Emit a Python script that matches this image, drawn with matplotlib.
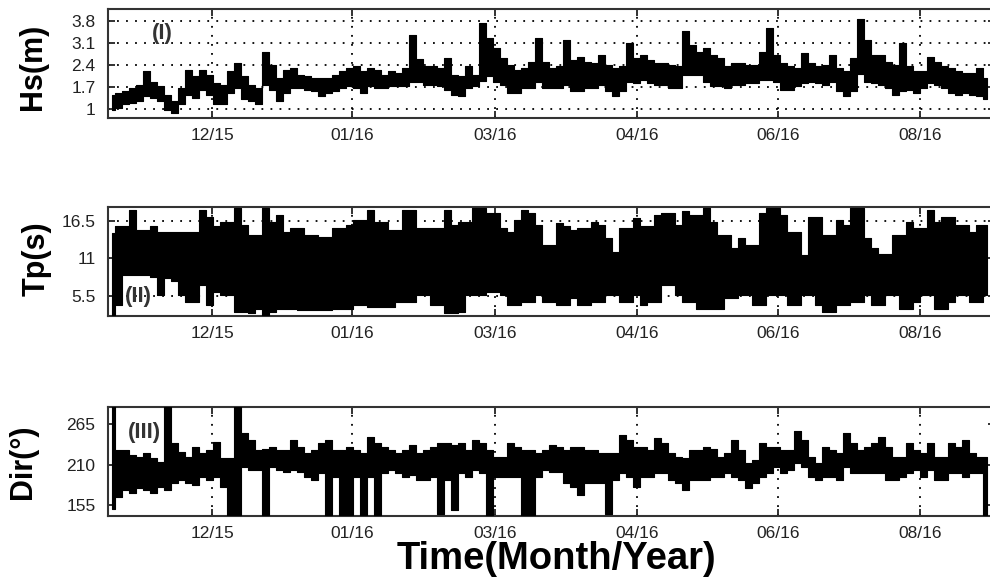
import numpy as np
import matplotlib
matplotlib.use("Agg")
import matplotlib.pyplot as plt

plt.rcParams['font.family'] = ['Liberation Sans', 'DejaVu Sans']

# x tick labels (evenly spaced in the original figure)
tick_labels = ['12/15', '01/16', '03/16', '04/16', '06/16', '08/16']
tick_pos = [14.4, 34.4, 54.8, 75.1, 95.2, 115.5]

# Hs (m): lower / upper envelope of the dense record
hs_lo = [0.95, 1.03, 1.14, 1.19, 1.24, 1.4, 1.35, 1.24, 0.98, 0.87,
         1.14, 1.45, 1.35, 1.61, 1.45, 1.14, 1.14, 1.5, 1.66, 1.3,
         1.24, 1.14, 1.77, 1.61, 1.24, 1.5, 1.66, 1.66, 1.61, 1.56,
         1.4, 1.5, 1.56, 1.66, 1.72, 1.66, 1.5, 1.72, 1.66, 1.66,
         1.72, 1.72, 1.72, 1.87, 1.87, 1.77, 1.77, 1.72, 1.61, 1.45,
         1.4, 1.66, 1.72, 1.9, 2.03, 1.87, 1.77, 1.5, 1.5, 1.66,
         1.66, 1.87, 1.66, 1.66, 1.66, 1.77, 1.56, 1.56, 1.66, 1.66,
         1.77, 1.56, 1.4, 1.56, 1.87, 1.82, 1.93, 1.82, 1.77, 1.77,
         1.66, 1.66, 2.08, 2.08, 2.08, 1.87, 1.72, 1.72, 1.66, 1.77,
         1.77, 1.82, 1.82, 1.93, 1.93, 1.87, 1.61, 1.61, 1.72, 1.82,
         1.87, 1.82, 1.77, 1.87, 1.56, 1.4, 1.56, 2.1, 1.87, 1.82,
         1.77, 1.66, 1.45, 1.56, 1.61, 1.5, 1.66, 1.82, 1.77, 1.66,
         1.5, 1.45, 1.5, 1.45, 1.4, 1.3]
hs_hi = [1.45, 1.5, 1.58, 1.66, 1.77, 2.2, 1.87, 1.72, 1.45, 1.24,
         1.66, 2.24, 2.03, 2.24, 2.08, 1.82, 1.77, 2.19, 2.45, 2.03,
         1.77, 1.66, 2.82, 2.4, 1.98, 2.24, 2.29, 2.08, 2.03, 1.98,
         1.98, 1.98, 2.08, 2.19, 2.29, 2.35, 2.19, 2.29, 2.24, 2.08,
         2.19, 2.13, 2.29, 3.35, 2.6, 2.35, 2.35, 2.29, 2.61, 2.08,
         2.03, 2.35, 2.08, 3.72, 3.24, 2.93, 2.61, 2.4, 2.24, 2.29,
         2.5, 3.26, 2.5, 2.29, 2.35, 3.18, 2.56, 2.66, 2.5, 2.45,
         2.72, 2.4, 2.29, 2.35, 3.1, 2.61, 2.72, 2.56, 2.45, 2.45,
         2.4, 2.35, 3.47, 3.03, 2.82, 2.93, 2.72, 2.61, 2.35, 2.45,
         2.45, 2.4, 2.4, 2.82, 3.56, 2.72, 2.45, 2.35, 2.29, 2.77,
         2.45, 2.35, 2.4, 2.72, 2.29, 2.19, 2.61, 3.85, 3.18, 2.72,
         2.72, 2.5, 2.4, 3.1, 2.35, 2.19, 2.19, 2.66, 2.5, 2.35,
         2.29, 2.19, 2.13, 2.13, 2.29, 1.98]

# Tp (s)
tp_lo = [2.65, 4.1, 8.5, 8.5, 8.5, 8.5, 8.3, 5.6, 8.05, 7.6,
         5.6, 4.6, 4.6, 7.1, 4.1, 6.1, 5.6, 5.6, 3.1, 3.1,
         2.9, 3.6, 2.65, 3.1, 3.6, 3.6, 3.6, 3.4, 3.4, 3.4,
         3.4, 3.4, 3.6, 3.6, 3.6, 4.1, 4.1, 3.9, 3.9, 3.9,
         3.9, 4.6, 4.6, 4.6, 5.6, 5.6, 4.1, 4.1, 2.9, 2.9,
         3.1, 5.6, 5.6, 5.6, 6.1, 6.1, 5.6, 4.1, 4.1, 4.6,
         4.6, 5.6, 4.6, 4.6, 4.1, 4.1, 5.1, 4.1, 4.1, 4.6,
         4.6, 5.6, 5.6, 4.6, 4.6, 5.6, 4.1, 4.6, 4.6, 7.1,
         7.1, 5.6, 4.6, 4.6, 3.6, 3.6, 3.6, 3.6, 5.1, 5.1,
         5.6, 5.6, 4.1, 4.1, 5.6, 5.6, 5.6, 4.1, 4.1, 5.6,
         5.6, 4.1, 3.1, 3.1, 4.1, 4.1, 4.6, 4.6, 5.6, 4.1,
         4.1, 5.6, 5.6, 3.6, 3.6, 4.6, 5.6, 5.6, 3.6, 3.6,
         4.6, 5.6, 5.6, 4.6, 4.6, 5.6]
tp_hi = [14.7, 15.7, 15.7, 18.1, 15.2, 15.2, 15.7, 14.9, 14.9, 14.9,
         14.9, 14.9, 14.9, 18.1, 17.1, 15.7, 16.4, 16.4, 18.4, 15.9,
         14.4, 14.4, 18.4, 16.4, 17.4, 14.9, 15.4, 15.4, 14.4, 14.4,
         14.2, 14.2, 15.4, 15.4, 15.9, 16.6, 16.6, 18.1, 16.4, 16.4,
         15.2, 15.2, 18.1, 18.1, 15.4, 15.4, 15.4, 15.4, 18.1, 15.9,
         16.4, 16.4, 18.4, 18.4, 17.6, 17.6, 15.4, 14.9, 16.6, 18.1,
         17.6, 15.9, 13.0, 13.0, 16.2, 15.7, 15.2, 15.4, 15.4, 16.4,
         15.9, 14.0, 12.0, 15.4, 15.4, 16.9, 15.7, 15.7, 17.4, 17.6,
         17.6, 15.9, 17.9, 17.4, 17.4, 18.4, 16.4, 14.4, 14.4, 12.5,
         14.0, 13.0, 13.0, 17.6, 18.4, 18.4, 17.4, 14.9, 14.9, 11.5,
         17.1, 17.1, 14.4, 14.4, 16.6, 15.9, 18.4, 18.4, 14.0, 12.5,
         11.7, 11.7, 14.4, 14.4, 16.4, 15.4, 15.4, 18.1, 16.4, 17.1,
         17.1, 15.9, 15.9, 14.9, 15.9, 15.9]

# Dir (deg)
dir_lo = [150, 166, 175.5, 171, 178, 175.5, 171, 180, 175.5, 184.6,
          189, 184.6, 182, 193.7, 189, 193.7, 180, 141, 141, 207.3,
          202.8, 202.8, 141, 207.3, 202.8, 200.5, 202.8, 200.5, 193.7, 189.2,
          198.3, 141, 193.7, 141, 141, 193.7, 141, 193.7, 141, 198.3,
          202.8, 198.3, 193.7, 196, 189.2, 189.2, 193.7, 143, 189.2, 148,
          198.3, 193.7, 202.8, 198.3, 141, 193.7, 193.7, 193.7, 193.7, 141,
          141, 193.7, 202.8, 200.5, 200.5, 184.6, 180, 169, 184.6, 184.6,
          184.6, 143, 189.2, 198.3, 193.7, 180, 193.7, 193.7, 198.3, 198.3,
          189.2, 184.6, 175.5, 189.2, 189.2, 189.2, 193.7, 193.7, 198.3, 193.7,
          189.2, 178, 184.6, 193.7, 198.3, 207.3, 198.3, 202.8, 212, 207.3,
          193.7, 189.2, 193.7, 193.7, 189.2, 207.3, 198.3, 198.3, 198.3, 198.3,
          198.3, 189.2, 189.2, 193.7, 198.3, 202.8, 193.7, 202.8, 189.2, 189.2,
          198.3, 198.3, 193.7, 198.3, 198.3, 141]
dir_hi = [290, 230, 230, 223, 221, 225.6, 219, 214, 290, 240,
          228, 221, 234.7, 225.6, 230, 241.5, 219, 219, 290, 253,
          243.8, 230, 232, 234.7, 230, 230, 243.8, 234.7, 225.6, 230,
          239.3, 243.8, 230, 230, 234.7, 230, 225.6, 248, 239.3, 234.7,
          230, 225.6, 230, 237, 225.6, 230, 234.7, 239.3, 239.3, 237,
          239.3, 230, 243.8, 239.3, 230, 221, 221, 239.3, 234.7, 230,
          230, 225.6, 230, 237, 234.7, 230, 234.7, 234.7, 230, 230,
          225.6, 225.6, 225.6, 251, 243.8, 234.7, 234.7, 230, 246, 239.3,
          225.6, 221, 219, 230, 230, 234.7, 232, 221, 225.6, 243.8,
          230, 212, 216.5, 239.3, 234.7, 234.7, 230, 230, 256, 243.8,
          221, 212, 234.7, 230, 225.6, 253, 239.3, 230, 234.7, 239.3,
          248, 234.7, 221, 221, 239.3, 230, 225.6, 239.3, 221, 221,
          239.3, 234.7, 243.8, 225.6, 221, 221]

panels = [
    dict(lo=hs_lo, hi=hs_hi, ylim=(0.71, 4.16), yticks=[1, 1.7, 2.4, 3.1, 3.8],
         ylabels=['1', '1.7', '2.4', '3.1', '3.8'], name='Hs(m)', tag='(I)',
         tagpos=(0.061, 0.783), namepos=(33, 67), rect=[0.1091, 0.7962, 0.896, 0.1874],
         ygrid=True),
    dict(lo=tp_lo, hi=tp_hi, ylim=(2.55, 18.6), yticks=[5.5, 11, 16.5],
         ylabels=['5.5', '11', '16.5'], name='Tp(s)', tag='(II)',
         tagpos=(0.034, 0.18), namepos=(37, 259), rect=[0.1091, 0.4547, 0.896, 0.1883],
         ygrid=True),
    dict(lo=dir_lo, hi=dir_hi, ylim=(140.4, 289.3), yticks=[155, 210, 265],
         ylabels=['155', '210', '265'], name='Dir(°)', tag='(III)',
         tagpos=(0.041, 0.759), namepos=(23, 462), rect=[0.1091, 0.1093, 0.896, 0.1883],
         ygrid=False),
]

fig = plt.figure(figsize=(9.9, 5.79), dpi=100)
W, H = 990, 579

for p in panels:
    ax = fig.add_axes(p['rect'])
    x = np.arange(len(p['lo']))
    ax.fill_between(x, p['lo'], p['hi'], step='mid', facecolor='black',
                    edgecolor='black', linewidth=0.8, zorder=3)
    ax.set_xlim(-0.5, 126.2)
    ax.set_ylim(*p['ylim'])
    ax.set_xticks(tick_pos)
    ax.set_xticklabels(tick_labels)
    ax.set_yticks(p['yticks'])
    ax.set_yticklabels(p['ylabels'])
    ax.tick_params(direction='in', top=True, right=True, length=5, width=1.3,
                   labelsize=12.5, colors='#222222')
    ax.tick_params(axis='x', pad=7.5)
    ax.tick_params(axis='y', pad=9)
    ax.set_axisbelow(True)
    ax.grid(True, axis='both' if p['ygrid'] else 'x', linestyle=(0, (1, 4)),
            color='black', linewidth=1.3)
    for s in ax.spines.values():
        s.set_linewidth(1.5)
        s.set_color('#333333')
    ax.text(p['tagpos'][0], p['tagpos'][1], p['tag'], transform=ax.transAxes,
            ha='center', va='center', fontsize=16, fontweight='bold',
            color='#333333', zorder=5)
    fig.text(p['namepos'][0] / W, 1 - p['namepos'][1] / H, p['name'], rotation=90,
             ha='center', va='center', fontsize=22, fontweight='bold',
             family=['Liberation Sans Narrow', 'Liberation Sans', 'DejaVu Sans'])

fig.text(556 / W, 2 / H, 'Time(Month/Year)', ha='center', va='bottom',
         fontsize=27.5, fontweight='bold')

fig.savefig('out.png', dpi=100)
